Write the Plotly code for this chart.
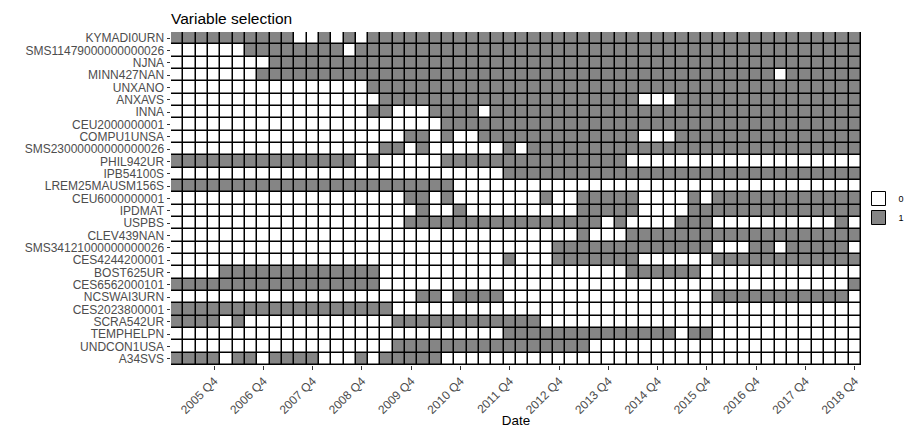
import plotly.graph_objects as go

# Variables (rows, top to bottom)
variables = [
    "KYMADI0URN", "SMS11479000000000026", "NJNA", "MINN427NAN", "UNXANO",
    "ANXAVS", "INNA", "CEU2000000001", "COMPU1UNSA", "SMS23000000000000026",
    "PHIL942UR", "IPB54100S", "LREM25MAUSM156S", "CEU6000000001", "IPDMAT",
    "USPBS", "CLEV439NAN", "SMS34121000000000026", "CES4244200001", "BOST625UR",
    "CES6562000101", "NCSWAI3URN", "CES2023800001", "SCRA542UR", "TEMPHELPN",
    "UNDCON1USA", "A34SVS",
]

# Quarters (columns), 2005 Q1 .. 2018 Q4
years = list(range(2005, 2019))
quarters = [f"{y} Q{q}" for y in years for q in (1, 2, 3, 4)]
tick_labels = [f"{y} Q4" for y in years]

# Selection indicator per variable: one 4-char group per year (Q1..Q4)
selected = [
    "1111 1111 1100 1010 1111 1111 1111 1111 1111 1111 1111 1111 1111 1111",  # KYMADI0URN
    "0000 0011 1111 1101 1111 1111 1111 1111 1111 1111 1111 1111 1111 1111",  # SMS11479000000000026
    "0000 0000 1111 1111 1111 1111 1111 1111 1111 1111 1111 1111 1111 1111",  # NJNA
    "0000 0001 1111 1111 1111 1111 1111 1111 1111 1111 1111 1111 1011 1111",  # MINN427NAN
    "0000 0000 0000 0000 1111 1111 1111 1111 1111 1111 1111 1111 1111 1111",  # UNXANO
    "0000 0000 0000 0000 0111 1111 1111 1111 1111 1100 0111 1111 1111 1111",  # ANXAVS
    "0000 0000 0000 0000 1100 0111 1011 1111 1111 1111 1111 1111 1111 1111",  # INNA
    "0000 0000 0000 0000 0000 0011 1111 1111 1111 1111 1111 1111 1111 1111",  # CEU2000000001
    "0000 0000 0000 0000 0001 1010 0111 1111 1111 1100 0111 1111 1111 1111",  # COMPU1UNSA
    "0000 0000 0000 0000 0110 1000 0001 0111 1111 1111 1111 1111 1111 1111",  # SMS23000000000000026
    "1111 1111 1111 1110 1000 0011 1111 1111 1111 1000 0000 0000 0000 0000",  # PHIL942UR
    "0000 0000 0000 0000 0000 0000 0001 1111 1111 1111 1111 1111 1111 1111",  # IPB54100S
    "1111 1111 1111 1111 1111 1110 0000 0000 0000 0000 0000 0000 0000 0000",  # LREM25MAUSM156S
    "0000 0000 0000 0000 0001 1010 0000 0010 0111 1100 0010 1111 1111 1111",  # CEU6000000001
    "0000 0000 0000 0000 0000 1001 0000 0000 0111 1100 0011 1111 1111 1111",  # IPDMAT
    "0000 0000 0000 0000 0001 1111 1111 1111 1110 1000 0111 0000 0000 0010",  # USPBS
    "0000 0000 0000 0000 0000 0000 0000 0000 0100 0111 1111 1111 1111 1111",  # CLEV439NAN
    "0000 0000 0000 0000 0000 0000 0000 0001 1111 1111 1111 0001 1011 1110",  # SMS34121000000000026
    "0000 0000 0000 0000 0000 0000 0001 0001 1111 1100 0000 1111 1111 1111",  # CES4244200001
    "0000 1111 1111 1111 1000 0000 0000 0000 0000 0111 1110 0000 0000 0000",  # BOST625UR
    "1111 1111 1111 1111 1000 0000 0000 0000 0000 0000 0000 0000 0000 0001",  # CES6562000101
    "0000 0000 0000 0000 0000 1101 1110 0000 0000 0000 0000 1111 1111 1110",  # NCSWAI3URN
    "1111 1111 1111 1111 1100 0000 0000 0000 0000 0000 0000 0000 0000 0000",  # CES2023800001
    "1111 0100 0000 0000 0011 1111 1111 1100 0000 0000 0000 0000 0000 0000",  # SCRA542UR
    "0000 0000 0000 0000 0000 0000 0001 1111 1111 1111 1011 0000 0000 0000",  # TEMPHELPN
    "0000 0000 0000 0000 0011 1111 1111 1111 1100 0000 0000 0000 0000 0000",  # UNDCON1USA
    "1111 0110 1111 0001 0111 1100 0000 0000 0000 0000 0000 0000 0000 0000",  # A34SVS
]

legend_levels = ["0", "1"]
level_colors = ["#FFFFFF", "#858585"]

z = [[int(ch) for ch in row.replace(" ", "")] for row in selected]

FONT = "Liberation Sans, Arial, Helvetica, sans-serif"

fig = go.Figure()
fig.add_trace(go.Heatmap(
    z=z, x=quarters, y=variables,
    zmin=0, zmax=1,
    colorscale=[[0, level_colors[0]], [0.5, level_colors[0]],
                [0.5, level_colors[1]], [1, level_colors[1]]],
    showscale=False, xgap=1.5, ygap=1.5, hoverongaps=False,
))

# legend entries
for lvl, col in zip(legend_levels, level_colors):
    fig.add_trace(go.Scatter(x=[None], y=[None], name=lvl, mode="markers",
                             marker=dict(symbol="square", size=14, color=col,
                                         line=dict(color="#000000", width=1)),
                             showlegend=True))

W, H = 904, 428
L, R, T, B = 171, 42.5, 32, 63
PW = W - L - R
PH = H - T - B

fig.update_layout(
    width=W, height=H,
    margin=dict(l=L, r=R, t=T, b=B, pad=0, autoexpand=False),
    paper_bgcolor="white",
    plot_bgcolor="#000000",
    font=dict(family=FONT, color="#000000"),
    title=dict(text="Variable selection", x=L / W, xanchor="left",
               y=1 - 19 / H, yanchor="middle", yref="container",
               font=dict(size=15.5, color="#000000", family=FONT)),
    showlegend=True,
    legend=dict(x=(859 - L) / PW, xanchor="left", y=(H - B - 208) / PH, yanchor="middle",
                font=dict(size=9, color="#000000", family=FONT),
                bgcolor="rgba(0,0,0,0)", borderwidth=0, tracegroupgap=0,
                itemwidth=30),
    xaxis=dict(
        type="category", categoryorder="array", categoryarray=quarters,
        tickmode="array", tickvals=tick_labels, ticktext=tick_labels,
        tickangle=-45, ticks="outside", ticklen=3.5, tickwidth=1, tickcolor="#333333",
        tickfont=dict(size=12, color="#4D4D4D", family=FONT),
        showgrid=False, zeroline=False, showline=False,
        range=[-0.5, len(quarters) - 0.5],
        title=dict(text="Date", font=dict(size=13.4, color="#000000", family=FONT), standoff=4),
    ),
    yaxis=dict(
        type="category", categoryorder="array", categoryarray=variables,
        tickmode="array", tickvals=variables, ticktext=variables,
        autorange="reversed",
        ticks="outside", ticklen=3.5, tickwidth=1, tickcolor="#333333",
        tickfont=dict(size=12, color="#4D4D4D", family=FONT),
        showgrid=False, zeroline=False, showline=False,
    ),
)

fig.write_html("out.html")
